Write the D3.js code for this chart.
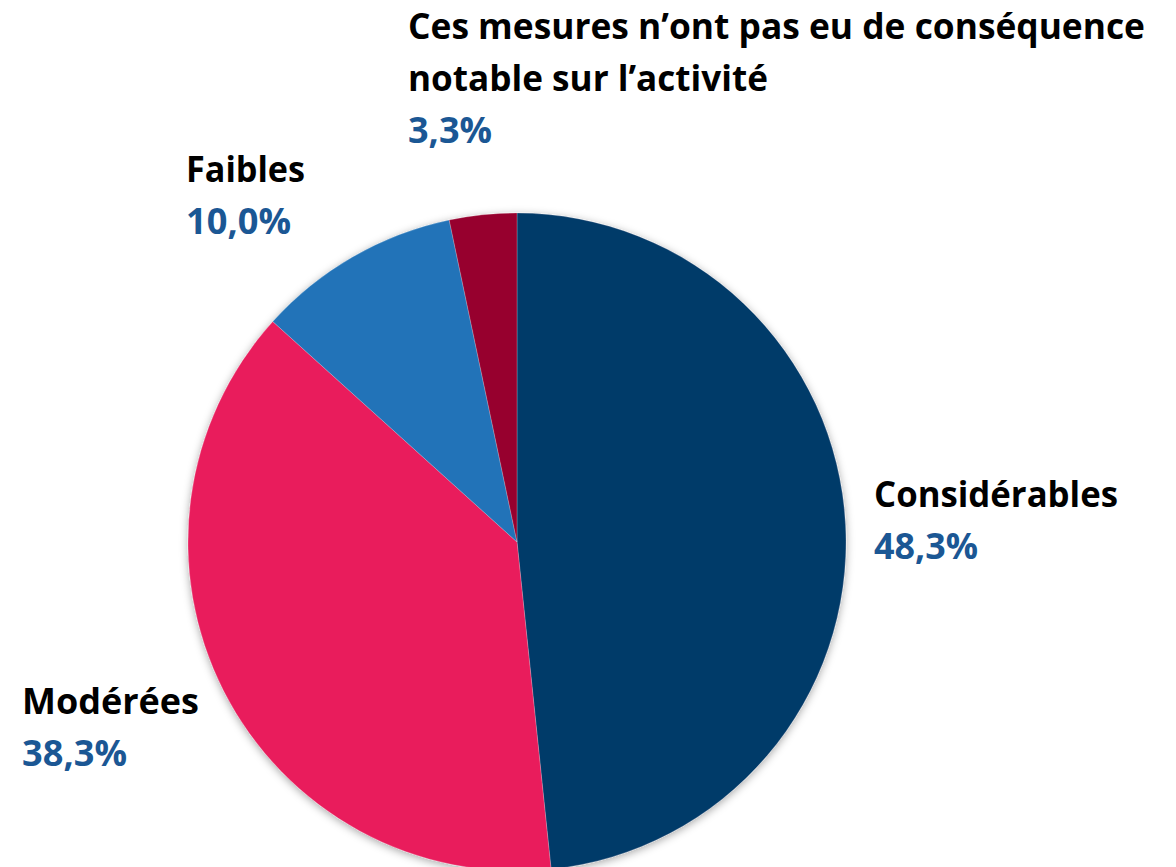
<!DOCTYPE html>
<html lang="fr">
<head>
<meta charset="utf-8">
<title>Conséquences des mesures sur l'activité</title>
<script src="https://cdn.jsdelivr.net/npm/d3@7/dist/d3.min.js"></script>
<style>
    html, body { margin: 0; padding: 0; background: #fff; }
    svg { display: block; }
    text { font-family: "Open Sans", "Noto Sans", sans-serif; font-weight: 700; }
</style>
</head>
<body>
<div id="chart"></div>
<script>
// Data
const categories = [
    'Considérables',
    'Modérées',
    'Faibles',
    'Ces mesures n’ont pas eu de conséquence notable sur l’activité'
];
const values = [48.3, 38.3, 10.0, 3.3];
const valueLabels = ['48,3%', '38,3%', '10,0%', '3,3%'];

// Label text split in lines (long category wraps on two lines)
const labelLines = [
    ['Considérables'],
    ['Modérées'],
    ['Faibles'],
    ['Ces mesures n’ont pas eu de conséquence', 'notable sur l’activité']
];

// Styles and layout
const colors = ['#063A69', '#E91A5B', '#2173B8', '#97002E'];
const labelPos = [
    { x: 874, y: 507 },
    { x: 22, y: 714 },
    { x: 186, y: 182 },
    { x: 408, y: 39 }
];
// rendered widths of each line, name lines then value line (original used a narrow face)
const lineWidths = [
    [244, 104],
    [177, 105],
    [119, 105],
    [737, 360, 84]
];

const width = 1176, height = 867;
const cx = 517, cy = 542, radius = 329;
const fontSize = 36;
const lineStep = 52;

const svg = d3.select('#chart')
    .append('svg')
    .attr('width', width)
    .attr('height', height)
    .attr('viewBox', `0 0 ${width} ${height}`);

// Soft shadow around the pie
const defs = svg.append('defs');
const filter = defs.append('filter')
    .attr('id', 'pie-shadow')
    .attr('x', '-10%').attr('y', '-10%')
    .attr('width', '120%').attr('height', '120%');
filter.append('feDropShadow')
    .attr('dx', 0)
    .attr('dy', 2)
    .attr('stdDeviation', 4)
    .attr('flood-color', '#000')
    .attr('flood-opacity', 0.35);

const pie = d3.pie()
    .sort(null)
    .value(d => d);

const arc = d3.arc()
    .innerRadius(0)
    .outerRadius(radius);

const g = svg.append('g')
    .attr('transform', `translate(${cx}, ${cy})`)
    .attr('filter', 'url(#pie-shadow)');

g.selectAll('path')
    .data(pie(values))
    .enter()
    .append('path')
    .attr('d', arc)
    .attr('fill', (d, i) => colors[i])
    .attr('stroke', 'rgba(255,255,255,0.35)')
    .attr('stroke-width', 0.6);

// Labels
const labels = svg.append('g').attr('class', 'labels');

categories.forEach((cat, i) => {
    const pos = labelPos[i];
    const block = labels.append('g')
        .attr('class', 'label')
        .attr('transform', `translate(${pos.x}, ${pos.y})`)
        .attr('aria-label', `${cat} ${valueLabels[i]}`);

    const lines = labelLines[i].map(t => ({ text: t, color: '#000' }))
        .concat([{ text: valueLabels[i], color: '#1B5794' }]);

    lines.forEach((line, j) => {
        block.append('text')
            .attr('x', 0)
            .attr('y', j * lineStep)
            .attr('fill', line.color)
            .attr('font-size', fontSize + 'px')
            .attr('textLength', lineWidths[i][j])
            .attr('lengthAdjust', 'spacingAndGlyphs')
            .text(line.text);
    });
});
</script>
</body>
</html>
